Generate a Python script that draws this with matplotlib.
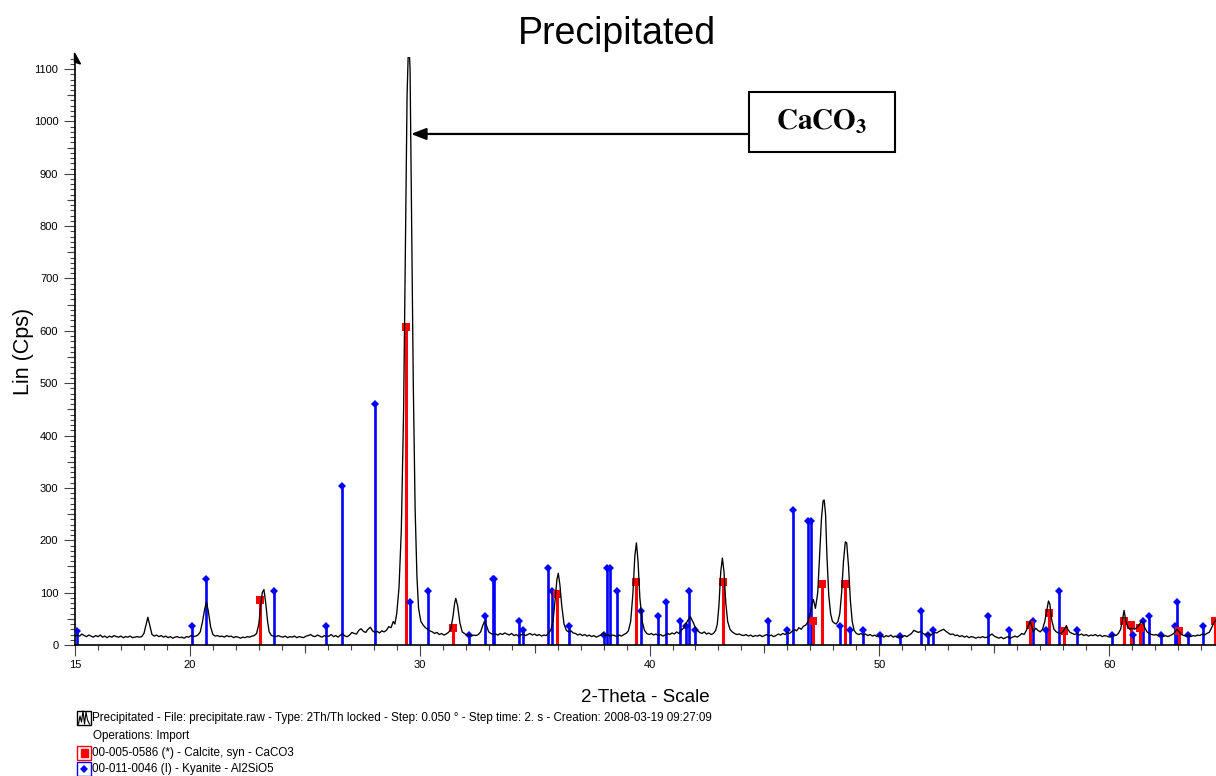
import matplotlib
matplotlib.use("Agg")
import matplotlib.pyplot as plt
import numpy as np
from matplotlib.patches import Rectangle, Polygon
from matplotlib.lines import Line2D

plt.rcParams['font.family'] = ['Liberation Sans', 'DejaVu Sans']
plt.rcParams['mathtext.fontset'] = 'stix'

# ---------------- data ----------------
scan_2theta = [
    15.0, 15.1, 15.2, 15.3, 15.4, 15.5, 15.6, 15.7, 15.8, 15.9, 16.0, 16.1, 16.2, 16.3, 16.4, 16.5,
    16.6, 16.7, 16.8, 16.9, 17.0, 17.1, 17.2, 17.3, 17.4, 17.5, 17.6, 17.7, 17.8, 17.9, 18.0, 18.1,
    18.17, 18.25, 18.35, 18.45, 18.55, 18.65, 18.75, 18.85, 18.95, 19.05, 19.15, 19.25, 19.35, 19.45,
    19.55, 19.65, 19.75, 19.85, 19.95, 20.05, 20.15, 20.25, 20.35, 20.45, 20.55, 20.65, 20.72, 20.8,
    20.9, 21.0, 21.1, 21.2, 21.3, 21.4, 21.5, 21.6, 21.7, 21.8, 21.9, 22.0, 22.1, 22.2, 22.3, 22.4,
    22.5, 22.6, 22.7, 22.8, 22.9, 23.0, 23.08, 23.15, 23.22, 23.3, 23.38, 23.45, 23.55, 23.65, 23.75,
    23.85, 23.95, 24.05, 24.15, 24.25, 24.35, 24.45, 24.55, 24.65, 24.75, 24.85, 24.95, 25.05, 25.15,
    25.25, 25.35, 25.45, 25.55, 25.65, 25.75, 25.85, 25.95, 26.05, 26.15, 26.25, 26.35, 26.45, 26.55,
    26.65, 26.75, 26.85, 26.95, 27.05, 27.15, 27.25, 27.35, 27.45, 27.55, 27.65, 27.75, 27.85, 27.95,
    28.05, 28.15, 28.25, 28.35, 28.45, 28.55, 28.65, 28.75, 28.85, 28.92, 29.0, 29.1, 29.2, 29.3,
    29.38, 29.45, 29.52, 29.58, 29.65, 29.72, 29.8, 29.88, 29.95, 30.05, 30.15, 30.25, 30.35, 30.45,
    30.55, 30.65, 30.75, 30.85, 30.95, 31.05, 31.15, 31.25, 31.35, 31.45, 31.52, 31.57, 31.65, 31.75,
    31.85, 31.95, 32.05, 32.15, 32.25, 32.35, 32.45, 32.55, 32.65, 32.75, 32.82, 32.9, 33.0, 33.1,
    33.2, 33.3, 33.4, 33.5, 33.6, 33.7, 33.8, 33.9, 34.0, 34.1, 34.2, 34.3, 34.4, 34.5, 34.6, 34.7,
    34.8, 34.9, 35.0, 35.1, 35.2, 35.3, 35.4, 35.5, 35.6, 35.7, 35.8, 35.9, 35.97, 36.03, 36.1, 36.18,
    36.28, 36.38, 36.48, 36.58, 36.68, 36.78, 36.88, 36.98, 37.08, 37.18, 37.28, 37.38, 37.48, 37.58,
    37.68, 37.78, 37.88, 37.98, 38.08, 38.18, 38.28, 38.38, 38.48, 38.58, 38.68, 38.78, 38.88, 38.98,
    39.08, 39.18, 39.28, 39.36, 39.43, 39.5, 39.58, 39.68, 39.78, 39.88, 39.98, 40.08, 40.18, 40.28,
    40.38, 40.48, 40.58, 40.68, 40.78, 40.88, 40.98, 41.08, 41.18, 41.28, 41.38, 41.48, 41.58, 41.68,
    41.78, 41.88, 41.98, 42.08, 42.18, 42.28, 42.38, 42.48, 42.58, 42.68, 42.78, 42.88, 42.95, 43.02,
    43.1, 43.17, 43.24, 43.32, 43.4, 43.5, 43.6, 43.7, 43.8, 43.9, 44.0, 44.1, 44.2, 44.3, 44.4, 44.5,
    44.6, 44.7, 44.8, 44.9, 45.0, 45.1, 45.2, 45.3, 45.4, 45.5, 45.6, 45.7, 45.8, 45.9, 46.0, 46.1,
    46.2, 46.3, 46.4, 46.5, 46.6, 46.7, 46.8, 46.9, 47.0, 47.08, 47.13, 47.18, 47.22, 47.26, 47.32,
    47.4, 47.48, 47.55, 47.6, 47.66, 47.72, 47.8, 47.88, 47.96, 48.04, 48.12, 48.2, 48.28, 48.36,
    48.44, 48.52, 48.58, 48.66, 48.74, 48.82, 48.9, 49.0, 49.1, 49.2, 49.3, 49.4, 49.5, 49.6, 49.7,
    49.8, 49.9, 50.0, 50.1, 50.2, 50.3, 50.4, 50.5, 50.6, 50.7, 50.8, 50.9, 51.0, 51.1, 51.2, 51.3,
    51.4, 51.5, 51.6, 51.7, 51.8, 51.9, 52.0, 52.1, 52.2, 52.3, 52.4, 52.5, 52.6, 52.7, 52.8, 52.9,
    53.0, 53.1, 53.2, 53.3, 53.4, 53.5, 53.6, 53.7, 53.8, 53.9, 54.0, 54.1, 54.2, 54.3, 54.4, 54.5,
    54.6, 54.7, 54.8, 54.9, 55.0, 55.1, 55.2, 55.3, 55.4, 55.5, 55.6, 55.7, 55.8, 55.9, 56.0, 56.1,
    56.2, 56.3, 56.4, 56.5, 56.56, 56.62, 56.7, 56.8, 56.9, 57.0, 57.1, 57.2, 57.3, 57.36, 57.42,
    57.5, 57.6, 57.7, 57.8, 57.9, 58.0, 58.08, 58.14, 58.2, 58.3, 58.4, 58.5, 58.6, 58.7, 58.8, 58.9,
    59.0, 59.1, 59.2, 59.3, 59.4, 59.5, 59.6, 59.7, 59.8, 59.9, 60.0, 60.1, 60.2, 60.3, 60.4, 60.5,
    60.58, 60.65, 60.72, 60.8, 60.9, 61.0, 61.1, 61.2, 61.3, 61.4, 61.48, 61.56, 61.65, 61.75, 61.85,
    61.95, 62.05, 62.15, 62.25, 62.35, 62.45, 62.55, 62.65, 62.75, 62.85, 62.95, 63.05, 63.15, 63.25,
    63.35, 63.45, 63.55, 63.65, 63.75, 63.85, 63.95, 64.05, 64.15, 64.25, 64.35, 64.45, 64.55, 64.65,
]
scan_counts = [
    16, 19, 17, 21, 18, 16, 19, 17, 15, 18, 16, 19, 15, 17, 14, 17,
    15, 18, 16, 15, 17, 14, 16, 15, 17, 14, 15, 16, 15, 16, 22, 40,
    53, 38, 20, 17, 19, 16, 18, 15, 17, 14, 16, 13, 15, 16,
    14, 15, 13, 16, 15, 18, 16, 17, 19, 25, 45, 70, 82, 65,
    35, 20, 17, 18, 16, 17, 15, 18, 16, 17, 14, 16, 15, 13, 15, 14,
    16, 15, 17, 18, 22, 40, 75, 100, 106, 80, 45, 25, 18, 17, 16,
    18, 16, 15, 17, 14, 16, 15, 17, 14, 16, 15, 14, 17, 18,
    20, 17, 16, 19, 17, 15, 18, 16, 17, 20, 16, 18, 15, 19,
    21, 17, 16, 19, 24, 22, 21, 28, 31, 26, 24, 30, 34, 27,
    24, 26, 23, 27, 25, 28, 35, 33, 45, 40, 60, 110, 220, 450,
    780, 1050, 1160, 1100, 800, 500, 260, 130, 70, 45, 38, 33, 30, 27,
    25, 22, 24, 20, 22, 19, 21, 24, 30, 55, 80, 89, 75, 42,
    25, 22, 19, 20, 17, 19, 18, 20, 25, 38, 45, 38, 25, 22,
    20, 21, 19, 22, 20, 23, 21, 19, 22, 18, 20, 17, 19, 21, 18, 20,
    22, 19, 21, 18, 20, 17, 19, 18, 22, 28, 45, 90, 125, 137, 115, 75,
    40, 28, 25, 27, 23, 22, 19, 21, 18, 20, 17, 19, 16, 18,
    15, 17, 19, 23, 18, 20, 17, 19, 18, 16, 19, 17, 20, 22,
    27, 45, 100, 170, 195, 160, 90, 45, 28, 22, 20, 22, 19, 21,
    18, 20, 17, 19, 22, 20, 23, 21, 25, 22, 28, 32, 40, 48,
    54, 45, 35, 28, 24, 22, 25, 21, 23, 20, 22, 28, 40, 75,
    140, 166, 140, 80, 45, 30, 25, 22, 20, 21, 19, 18, 20, 17, 19, 16,
    18, 17, 19, 16, 18, 20, 17, 19, 16, 18, 21, 19, 22, 20, 24, 22,
    26, 30, 27, 33, 30, 36, 38, 45, 62, 80, 87, 78, 70, 82, 100,
    170, 240, 275, 277, 250, 170, 95, 60, 45, 42, 40, 45, 60, 100,
    160, 197, 195, 150, 85, 45, 28, 22, 20, 22, 19, 21, 18, 20, 17,
    19, 16, 19, 17, 15, 18, 16, 19, 15, 17, 14, 17, 15, 18, 16, 19,
    22, 28, 26, 24, 26, 22, 20, 22, 19, 21, 24, 23, 26, 28, 30, 26,
    23, 20, 21, 18, 19, 16, 18, 15, 17, 14, 16, 15, 13, 15, 14, 16,
    14, 15, 18, 21, 17, 15, 13, 15, 12, 14, 16, 13, 15, 17, 15, 18,
    22, 20, 28, 38, 45, 38, 25, 32, 28, 25, 30, 45, 70, 84, 78,
    48, 30, 25, 23, 22, 26, 32, 37, 30, 24, 22, 20, 22, 19, 21, 18,
    20, 17, 19, 18, 20, 17, 19, 16, 18, 17, 15, 17, 19, 18, 22, 30,
    48, 66, 48, 35, 30, 32, 30, 33, 38, 45, 42, 32, 25, 22, 20,
    19, 20, 17, 19, 16, 18, 16, 18, 20, 24, 30, 25, 20, 18,
    17, 19, 16, 18, 17, 19, 18, 21, 19, 22, 24, 32, 42, 48,
]

calcite_2theta = [23.07, 29.42, 31.45, 35.98, 39.41, 43.18, 47.12, 47.50, 48.52,
                  56.56, 57.40, 58.05, 60.66, 60.97, 61.35, 63.04, 64.62]
calcite_counts = [86, 607, 33, 98, 120, 120, 45, 116, 116,
                  38, 62, 27, 45, 38, 33, 27, 46]

kyanite_2theta = [15.10, 20.09, 20.70, 23.66, 25.93, 26.62, 28.07, 29.57, 30.35, 32.13,
                  32.83, 33.17, 33.23, 34.33, 34.48, 35.60, 35.75, 36.50, 38.00, 38.15,
                  38.28, 38.60, 39.61, 40.38, 40.72, 41.34, 41.60, 41.71, 41.96, 45.17,
                  45.97, 46.23, 46.91, 47.02, 48.29, 48.74, 49.30, 50.05, 50.90, 51.82,
                  52.10, 52.35, 54.73, 55.63, 56.70, 57.25, 57.80, 58.62, 60.13, 61.06,
                  61.49, 61.72, 62.27, 62.87, 62.95, 63.45, 64.10]
kyanite_counts = [27, 37, 126, 104, 37, 304, 460, 82, 104, 19,
                  55, 126, 126, 46, 28, 148, 104, 37, 19, 148,
                  148, 104, 64, 55, 82, 46, 37, 104, 28, 46,
                  28, 258, 237, 237, 37, 28, 28, 19, 17, 64,
                  19, 28, 55, 28, 46, 28, 104, 28, 19, 19,
                  46, 55, 19, 37, 82, 19, 37]

y_major = list(range(0, 1101, 100))
x_major = [15, 20, 30, 40, 50, 60]

title_text = "Precipitated"
legend_lines = [
    "Precipitated - File: precipitate.raw - Type: 2Th/Th locked - Step: 0.050 ° - Step time: 2. s - Creation: 2008-03-19 09:27:09",
    "Operations: Import",
    "00-005-0586 (*) - Calcite, syn - CaCO3",
    "00-011-0046 (I) - Kyanite - Al2SiO5",
]

# ---------------- figure ----------------
W, H = 1216, 776
fig = plt.figure(figsize=(W / 100, H / 100), dpi=100)


def fx(px):
    return px / W


def fy(py):
    return 1 - py / H


ax = fig.add_axes([fx(75), fy(645), 1 - fx(75), fy(57) - fy(645)])
ax.set_xlim(15, 64.65)
ax.set_ylim(0, 1123)

blue = '#0000ff'
red = '#ff0000'
ax.vlines(kyanite_2theta, 0, kyanite_counts, colors=blue, lw=1.9, zorder=2)
ax.plot(kyanite_2theta, kyanite_counts, 'D', color=blue, ms=4.4, mew=0, zorder=3)
ax.vlines(calcite_2theta, 0, calcite_counts, colors=red, lw=2.2, zorder=2)
ax.plot(calcite_2theta, calcite_counts, 's', color=red, ms=5.8, mew=0, zorder=3)
ax.plot(scan_2theta, scan_counts, color='black', lw=0.95, zorder=4)

for s in ['top', 'right']:
    ax.spines[s].set_visible(False)
for s in ['left', 'bottom']:
    ax.spines[s].set_linewidth(1.2)
    ax.spines[s].set_color('black')

tick_col = '#444444'
ax.set_yticks(y_major)
ax.set_yticks(np.arange(0, 1121, 10), minor=True)
ax.set_xticks(x_major)
ax.set_xticks(np.arange(15, 65, 1), minor=True)
ax.tick_params(axis='both', which='major', direction='out', length=8, width=0.8,
               color=tick_col, labelsize=8)
ax.tick_params(axis='x', which='major', pad=2.5)
ax.tick_params(axis='y', which='major', pad=4)
ax.tick_params(axis='both', which='minor', direction='out', length=3.6, width=0.8,
               color=tick_col)

# medium ticks
sy = ax.secondary_yaxis('left')
sy.set_yticks(np.arange(50, 1101, 100))
sy.tick_params(direction='out', length=5.8, width=0.8, color=tick_col, labelleft=False)
sy.spines['left'].set_visible(False)
sx = ax.secondary_xaxis('bottom')
sx.set_xticks([25, 35, 45, 55])
sx.tick_params(direction='out', length=5.8, width=0.8, color=tick_col, labelbottom=False)
sx.spines['bottom'].set_visible(False)

ax.set_ylabel("Lin (Cps)", fontsize=15.5)
ax.yaxis.set_label_coords(-0.036, 0.5)
ax.set_xlabel("2-Theta - Scale", fontsize=13.5, labelpad=14)

# y-axis arrow head
fig.patches.append(Polygon([(fx(74.5), fy(53)), (fx(80.5), fy(64)), (fx(74.5), fy(62))],
                           closed=True, color='black', transform=fig.transFigure))

fig.text(fx(617), fy(34), title_text, fontsize=27, ha='center', va='center')

# annotation
ax.annotate('', xy=(29.62, 976), xytext=(44.33, 976),
            arrowprops=dict(arrowstyle='-|>,head_length=0.9,head_width=0.35',
                            color='black', lw=1.6, shrinkA=0, shrinkB=0), zorder=6)
ax.add_patch(Rectangle((44.33, 942), 6.35, 114, facecolor='white', edgecolor='black',
                       lw=1.5, clip_on=False, zorder=7))
ax.text(47.5, 999, r'$\mathbf{CaCO_3}$', fontsize=21, ha='center', va='center', zorder=8)

# legend text lines
ly = [718, 736, 753, 769]
lx = [92, 93, 92, 92]
for t, x, y in zip(legend_lines, lx, ly):
    fig.text(fx(x), fy(y), t, fontsize=8.35, ha='left', va='center')

# icons
def box(y, ec):
    fig.patches.append(Rectangle((fx(77), fy(y + 7)), fx(14), fy(0) - fy(14), fill=False,
                                 ec=ec, lw=1.0, transform=fig.transFigure))

box(718, 'black')
zz_x = [78.5, 80, 81.5, 83, 84.5, 86, 87.5, 89.5]
zz_y = [724, 716, 722, 711, 724, 712, 720, 724]
fig.lines.append(Line2D([fx(v) for v in zz_x], [fy(v) for v in zz_y], color='black', lw=0.8,
                        transform=fig.transFigure))
box(753, red)
fig.patches.append(Rectangle((fx(80.5), fy(757)), fx(7), fy(0) - fy(8), color=red,
                             transform=fig.transFigure))
box(769, blue)
fig.lines.append(Line2D([fx(84)], [fy(769)], marker='D', ms=4, color=blue, mew=0,
                        transform=fig.transFigure))

fig.savefig('out.png', dpi=100)
